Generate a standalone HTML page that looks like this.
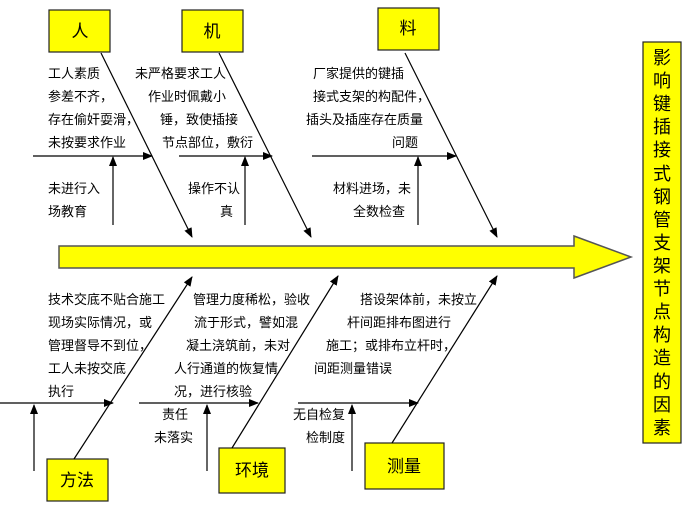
<!DOCTYPE html>
<html><head><meta charset="utf-8"><style>
html,body{margin:0;padding:0;background:#fff;}
svg{display:block;}
text{font-family:"Liberation Sans","Noto Sans CJK SC",sans-serif;font-size:13px;fill:#000;}
.b{font-size:17px;}
.v{font-size:18px;}
</style></head><body>
<svg width="700" height="511" viewBox="0 0 700 511" xmlns="http://www.w3.org/2000/svg">
<defs><marker id="a" markerWidth="10" markerHeight="8" refX="9" refY="4" orient="auto" markerUnits="userSpaceOnUse"><path d="M0,0 L10,4 L0,8 Z" fill="#000"/></marker></defs>
<rect width="700" height="511" fill="#fff"/>
<path d="M59,246 L574,246 L574,236 L631,257 L574,278 L574,268 L59,268 Z" fill="#ffff00" stroke="#555" stroke-width="1.5"/>
<g fill="#ffff00" stroke="#222" stroke-width="1.2">
<rect x="49" y="10" width="61" height="42"/>
<rect x="182" y="10" width="61" height="42"/>
<rect x="378" y="8" width="61" height="42"/>
<rect x="47" y="459" width="61" height="42"/>
<rect x="219" y="448" width="66" height="45"/>
<rect x="365" y="443" width="79" height="46"/>
<rect x="643" y="42" width="38" height="401"/>
</g>
<g text-anchor="middle">
<text class="b" x="80" y="37">人</text>
<text class="b" x="212" y="37">机</text>
<text class="b" x="408" y="34">料</text>
<text class="b" x="77" y="486">方法</text>
<text class="b" x="252" y="476">环境</text>
<text class="b" x="404" y="472">测量</text>
</g>
<g text-anchor="middle">
<text class="v" x="662" y="64">影</text>
<text class="v" x="662" y="87">响</text>
<text class="v" x="662" y="110">键</text>
<text class="v" x="662" y="133">插</text>
<text class="v" x="662" y="156">接</text>
<text class="v" x="662" y="180">式</text>
<text class="v" x="662" y="203">钢</text>
<text class="v" x="662" y="226">管</text>
<text class="v" x="662" y="249">支</text>
<text class="v" x="662" y="272">架</text>
<text class="v" x="662" y="295">节</text>
<text class="v" x="662" y="318">点</text>
<text class="v" x="662" y="341">构</text>
<text class="v" x="662" y="364">造</text>
<text class="v" x="662" y="388">的</text>
<text class="v" x="662" y="411">因</text>
<text class="v" x="662" y="434">素</text>
</g>
<g stroke="#000" stroke-width="1.2" marker-end="url(#a)">
<line x1="101" y1="53" x2="192" y2="237"/>
<line x1="219" y1="53" x2="311" y2="237"/>
<line x1="405" y1="53" x2="497" y2="237"/>
<line x1="33" y1="156" x2="152" y2="156"/>
<line x1="179" y1="156" x2="272" y2="156"/>
<line x1="312" y1="156" x2="456" y2="156"/>
<line x1="113" y1="225" x2="113" y2="157"/>
<line x1="245" y1="225" x2="245" y2="157"/>
<line x1="418" y1="225" x2="418" y2="157"/>
<line x1="74" y1="459" x2="192" y2="277"/>
<line x1="232" y1="448" x2="338" y2="276"/>
<line x1="392" y1="443" x2="497" y2="276"/>
<line x1="0" y1="403" x2="113" y2="403"/>
<line x1="139" y1="403" x2="258" y2="403"/>
<line x1="298" y1="403" x2="418" y2="403"/>
<line x1="34" y1="471" x2="34" y2="405"/>
<line x1="207" y1="471" x2="207" y2="405"/>
<line x1="352" y1="471" x2="352" y2="405"/>
</g>
<g>
<text x="48" y="78">工人素质</text>
<text x="48" y="101">参差不齐，</text>
<text x="48" y="124">存在偷奸耍滑，</text>
<text x="48" y="147">未按要求作业</text>
<text x="48" y="193">未进行入</text>
<text x="48" y="216">场教育</text>
<text x="135" y="78">未严格要求工人</text>
<text x="148" y="101">作业时佩戴小</text>
<text x="160" y="124">锤，致使插接</text>
<text x="162" y="147">节点部位，敷衍</text>
<text x="188" y="193">操作不认</text>
<text x="220" y="216">真</text>
<text x="313" y="78">厂家提供的键插</text>
<text x="313" y="101">接式支架的构配件，</text>
<text x="306" y="124">插头及插座存在质量</text>
<text x="392" y="147">问题</text>
<text x="333" y="193">材料进场，未</text>
<text x="353" y="216">全数检查</text>
<text x="48" y="304">技术交底不贴合施工</text>
<text x="48" y="327">现场实际情况，或</text>
<text x="48" y="350">管理督导不到位，</text>
<text x="48" y="373">工人未按交底</text>
<text x="48" y="396">执行</text>
<text x="193" y="304">管理力度稀松，验收</text>
<text x="194" y="327">流于形式，譬如混</text>
<text x="186" y="350">凝土浇筑前，未对</text>
<text x="174" y="373">人行通道的恢复情</text>
<text x="174" y="396">况，进行核验</text>
<text x="162" y="419">责任</text>
<text x="154" y="442">未落实</text>
<text x="360" y="304">搭设架体前，未按立</text>
<text x="347" y="327">杆间距排布图进行</text>
<text x="326" y="350">施工；或排布立杆时，</text>
<text x="314" y="373">间距测量错误</text>
<text x="293" y="419">无自检复</text>
<text x="306" y="442">检制度</text>
</g>
</svg>
</body></html>
